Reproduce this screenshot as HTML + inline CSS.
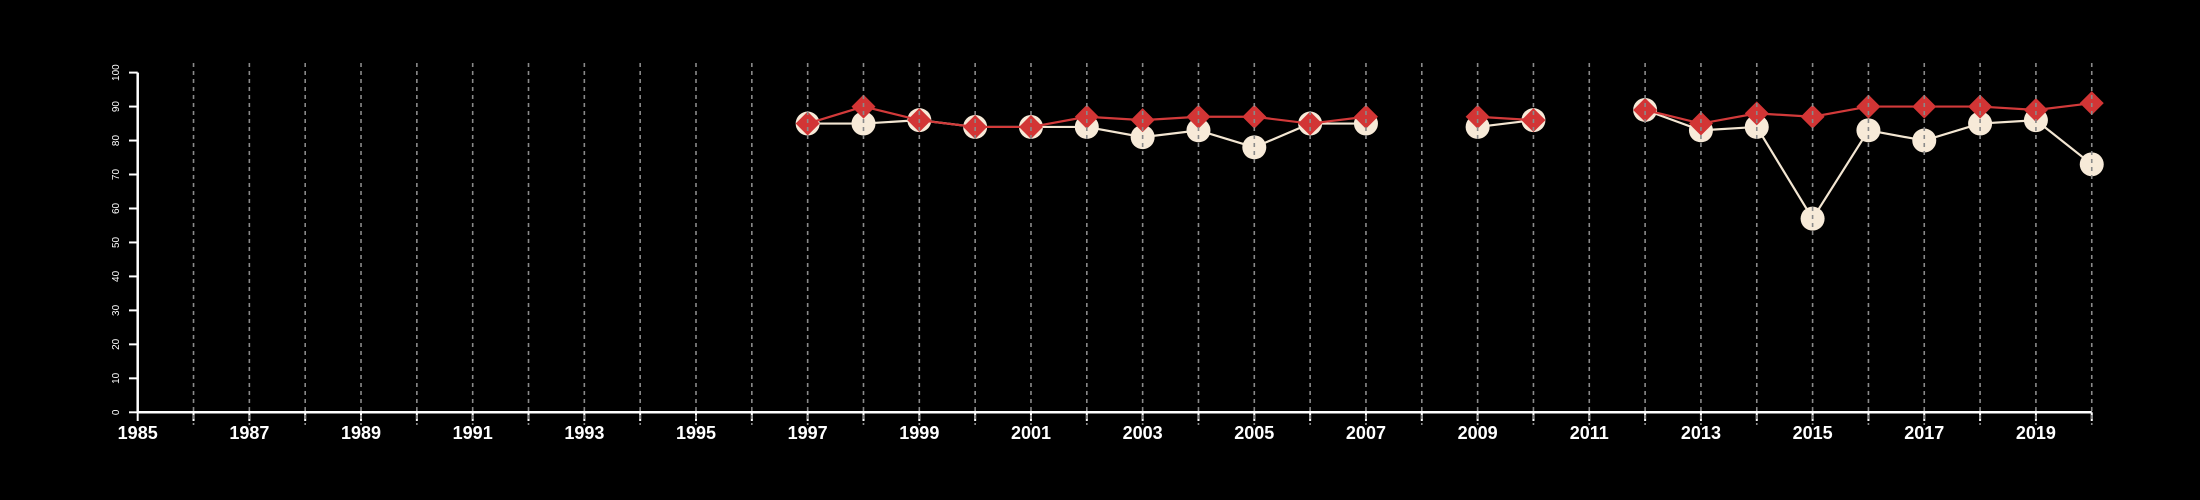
<!DOCTYPE html>
<html><head><meta charset="utf-8"><style>
html,body{margin:0;padding:0;background:#000;}
svg{display:block;font-family:"Liberation Sans",Arial,sans-serif;}
</style></head><body>
<svg id="chart" width="2200" height="500" viewBox="0 0 2200 500">
<rect width="2200" height="500" fill="#000"/>
<g id="gA"></g>
<g id="gX"></g>
<g id="gS"></g>
<g id="gG"></g>
</svg>
<script>
const years = [1997,1998,1999,2000,2001,2002,2003,2004,2005,2006,2007,2008,2009,2010,2011,2012,2013,2014,2015,2016,2017,2018,2019,2020];
const seriesWhite = [85,85,86,84,84,84,81,83,78,85,85,null,84,86,null,89,83,84,57,83,80,85,86,73];
const seriesRed = [85,90,86,84,84,87,86,87,87,85,87,null,87,86,null,89,85,88,87,90,90,90,89,91];
const yTicks = [0,10,20,30,40,50,60,70,80,90,100];
const xStart = 1985, xEnd = 2020;

const NS='http://www.w3.org/2000/svg';
function X(v){return 137.7+(v-1985)*55.83;}
function Y(v){return 412.3-v*3.397;}
function mk(tag,attrs,parent){const e=document.createElementNS(NS,tag);for(const k in attrs)e.setAttribute(k,attrs[k]);parent.appendChild(e);return e;}
const gA=document.getElementById('gA'),gX=document.getElementById('gX'),gS=document.getElementById('gS'),gG=document.getElementById('gG');

// y axis
let l=mk('line',{x1:137.7,y1:Y(0),x2:137.7,y2:Y(100),stroke:'#fff','stroke-width':2.5},gA);


yTicks.forEach(t=>{
  const tk=mk('line',{x1:129,y1:Y(t),x2:137.7,y2:Y(t),stroke:'#fff','stroke-width':2},gA);
  
  
  const tx=mk('text',{x:0,y:0,fill:'#fff','font-size':10,'text-anchor':'middle',transform:`translate(119,${Y(t)}) rotate(-90)`},gA);
  tx.textContent=t;
  
  
});

// x axis
l=mk('line',{x1:X(xStart),y1:412.3,x2:X(xEnd),y2:412.3,stroke:'#fff','stroke-width':2.5},gX);


for(let yr=xStart;yr<=xEnd;yr++){
  const tk=mk('line',{x1:X(yr),y1:412.3,x2:X(yr),y2:421,stroke:'#fff','stroke-width':2},gX);
  
  
  if((yr-xStart)%2===0){
    const tx=mk('text',{x:X(yr),y:439,fill:'#fff','font-size':18,'font-weight':'bold','text-anchor':'middle'},gX);
    tx.textContent=yr;
    
    
  }
  if(yr>xStart){
    const g=mk('line',{x1:X(yr),y1:63,x2:X(yr),y2:425,stroke:'#8a8a8a','stroke-width':1.6,'stroke-dasharray':'4 4'},gG);
    
    
  }
}

function drawLine(vals,color,name){
  let seg=[];
  const flush=()=>{if(seg.length>1){const p=mk('polyline',{points:seg.join(' '),fill:'none',stroke:color,'stroke-width':2.2},gS);}seg=[];};
  vals.forEach((v,i)=>{if(v==null){flush();}else seg.push(X(years[i])+','+Y(v));});
  flush();
}
drawLine(seriesWhite,'#f3e6d2','white-series-line');
seriesWhite.forEach((v,i)=>{
  if(v==null)return;
  const c=mk('circle',{cx:X(years[i]),cy:Y(v),r:12,fill:'#f7ead8'},gS);
  
  
});
drawLine(seriesRed,'#d23a3a','red-series-line');
seriesRed.forEach((v,i)=>{
  if(v==null)return;
  const x=X(years[i]),y=Y(v),s=12;
  const d=mk('polygon',{points:`${x},${y-s} ${x+s},${y} ${x},${y+s} ${x-s},${y}`,fill:'#d23535'},gS);
  
  
});
</script>
</body></html>
